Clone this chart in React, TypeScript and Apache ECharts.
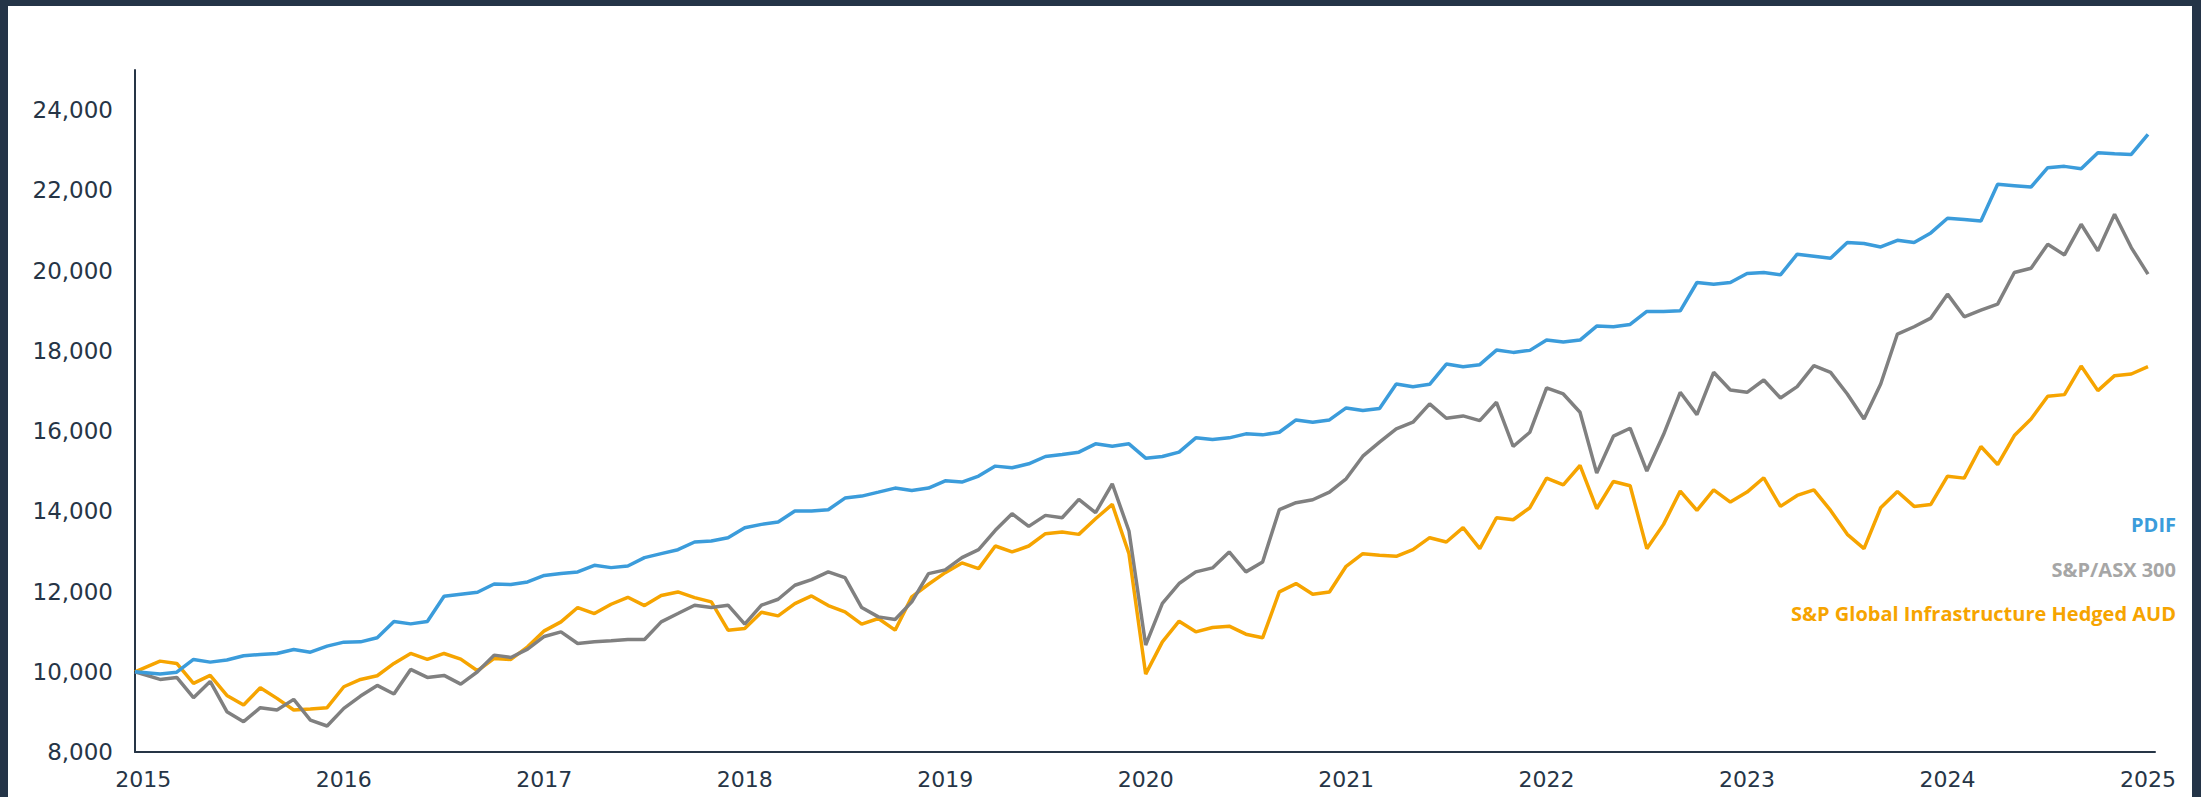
import React, { useEffect, useRef } from "react";
import * as echarts from "echarts";

// x position of each observation, in months after 1 Jan 2015 (first point is the start value, then month ends)
const MONTH_POS: number[] = [-0.5, ...Array.from({ length: 120 }, (_, i) => i + 1)];

const YEAR_TICKS = [0, 12, 24, 36, 48, 60, 72, 84, 96, 108, 120];
const YEAR_LABELS = ["2015", "2016", "2017", "2018", "2019", "2020", "2021", "2022", "2023", "2024", "2025"];

const PDIF = [
  10000, 9942, 9990, 10307, 10240, 10295, 10398, 10431, 10456, 10556, 10489, 10639, 10738, 10746, 10846, 11252, 11194, 11252, 11882, 11932, 11982, 12189, 12173, 12239, 12400,
  12447, 12488, 12654, 12596, 12637, 12845, 12944, 13043, 13234, 13259, 13342, 13591, 13674, 13732, 14006, 14006, 14039, 14329, 14379, 14478, 14578, 14520, 14578, 14760,
  14728, 14877, 15126, 15084, 15184, 15366, 15416, 15474, 15681, 15623, 15681, 15325, 15366, 15474, 15831, 15789, 15831, 15930, 15905, 15971, 16278, 16220, 16278, 16576,
  16510, 16560, 17173, 17107, 17165, 17671, 17605, 17655, 18019, 17961, 18011, 18268, 18218, 18268, 18617, 18600, 18658, 18981, 18981, 18998, 19703, 19662, 19703, 19927,
  19952, 19894, 20408, 20358, 20308, 20698, 20673, 20590, 20756, 20698, 20939, 21304, 21271, 21238, 22150, 22117, 22084, 22565, 22598, 22540, 22938, 22913, 22896, 23394,
];

const ASX300 = [
  10000, 9809, 9859, 9353, 9760, 9005, 8756, 9104, 9046, 9312, 8797, 8648, 9088, 9395, 9660, 9444, 10058, 9859, 9909, 9693, 10000, 10415, 10357, 10564, 10880,
  10995, 10705, 10746, 10771, 10804, 10804, 11244, 11451, 11659, 11601, 11659, 11186, 11659, 11807, 12156, 12297, 12488, 12347, 11601, 11368, 11302, 11742, 12447, 12540,
  12845, 13044, 13525, 13940, 13624, 13898, 13840, 14296, 13965, 14686, 13508, 10666, 11703, 12200, 12490, 12589, 12987, 12490, 12738, 14040, 14214, 14288, 14479, 14810,
  15374, 15722, 16054, 16220, 16676, 16319, 16377, 16261, 16717, 15615, 15971, 17074, 16925, 16468, 14951, 15872, 16071, 15001, 15913, 16966, 16410, 17464, 17024, 16966,
  17273, 16825, 17107, 17630, 17464, 16925, 16303, 17174, 18418, 18600, 18816, 19413, 18849, 19015, 19164, 19952, 20060, 20657, 20391, 21154, 20491, 21404, 20574, 19911,
];

const GLOBAL_INFRA = [
  10000, 10265, 10207, 9710, 9909, 9411, 9171, 9602, 9337, 9046, 9071, 9104, 9627, 9809, 9900, 10207, 10456, 10307, 10456, 10315, 10025, 10332, 10307, 10622, 11020,
  11244, 11601, 11451, 11683, 11857, 11650, 11899, 11990, 11849, 11742, 11037, 11078, 11484, 11393, 11700, 11891, 11650, 11493, 11186, 11327, 11037, 11866, 12181, 12470,
  12712, 12571, 13135, 12986, 13135, 13442, 13483, 13425, 13815, 14171, 12944, 9941, 10746, 11260, 10995, 11103, 11136, 10937, 10846, 11990, 12198, 11932, 11990, 12629,
  12944, 12903, 12878, 13044, 13342, 13235, 13591, 13069, 13840, 13790, 14089, 14827, 14661, 15142, 14064, 14744, 14636, 13069, 13674, 14503, 14022, 14536, 14229, 14478,
  14835, 14122, 14395, 14536, 14022, 13425, 13068, 14088, 14495, 14122, 14171, 14876, 14827, 15614, 15166, 15888, 16302, 16866, 16908, 17621, 17008, 17381, 17422, 17605,
];

const SERIES_NAMES = ["PDIF", "S&P/ASX 300", "S&P Global Infrastructure Hedged AUD"];
const LINE_COLORS = ["#3b9cdb", "#808080", "#f6a400"];
const LABEL_COLORS = ["#3b9cdb", "#a6a6a6", "#f6a400"];

const AXIS_COLOR = "#263546";
const FRAME_COLOR = "#243447";

export default function App() {
  const ref = useRef<HTMLDivElement>(null);

  useEffect(() => {
    if (!ref.current) return;
    const chart = echarts.init(ref.current, undefined, { renderer: "svg" });
    const values = [PDIF, ASX300, GLOBAL_INFRA];
    const series = values.map((vals, si) => ({
      name: SERIES_NAMES[si],
      type: "line" as const,
      data: vals.map((v, i) => [MONTH_POS[i], v]),
      showSymbol: false,
      symbol: "none",
      lineStyle: { color: LINE_COLORS[si], width: 3.5 },
      itemStyle: { color: LINE_COLORS[si] },
      z: 3 - si,
    }));
    chart.setOption({
      animation: false,
      backgroundColor: "#ffffff",
      grid: { left: 127, top: 64, right: 37, bottom: 45, containLabel: false },
      xAxis: {
        type: "value",
        min: -0.5,
        max: 120.42,
        axisLine: { show: true, onZero: false, lineStyle: { color: AXIS_COLOR, width: 2 } },
        axisTick: { show: false },
        splitLine: { show: false },
        axisLabel: {
          customValues: YEAR_TICKS,
          formatter: (v: number) => YEAR_LABELS[YEAR_TICKS.indexOf(Math.round(v))] ?? "",
          color: AXIS_COLOR,
          fontFamily: "DejaVu Sans",
          fontSize: 22,
          margin: 16,
        },
      },
      yAxis: {
        type: "value",
        min: 8000,
        max: 25000,
        interval: 2000,
        axisLine: { show: true, onZero: false, lineStyle: { color: AXIS_COLOR, width: 2 } },
        axisTick: { show: false },
        splitLine: { show: false },
        axisLabel: {
          showMaxLabel: false,
          formatter: (v: number) => v.toLocaleString("en-US"),
          color: AXIS_COLOR,
          fontFamily: "DejaVu Sans",
          fontSize: 23,
          margin: 22,
        },
      },
      graphic: SERIES_NAMES.map((name, i) => ({
        type: "text",
        right: 16,
        top: [508, 553, 597][i],
        style: {
          text: name,
          fill: LABEL_COLORS[i],
          font: "bold 20px 'Open Sans'",
          textAlign: "right",
        },
      })),
      series,
    });
    return () => chart.dispose();
  }, []);

  return (
    <div
      style={{
        position: "fixed",
        left: 0,
        top: 0,
        width: 2201,
        height: 797,
        background: FRAME_COLOR,
        margin: 0,
      }}
    >
      <div
        ref={ref}
        style={{ position: "absolute", left: 8, top: 6, width: 2184, height: 791, background: "#fff" }}
      />
    </div>
  );
}
